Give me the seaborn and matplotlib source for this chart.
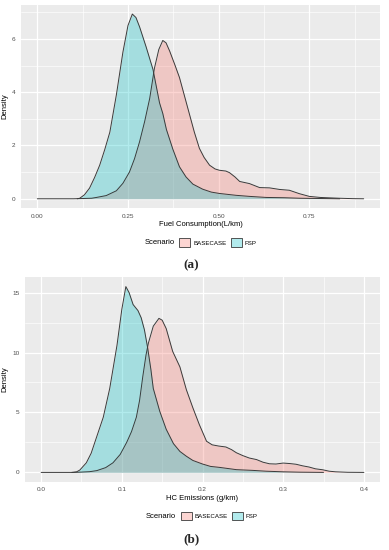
import numpy as np
import pandas as pd
import matplotlib
matplotlib.use("Agg")
import matplotlib.pyplot as plt
from matplotlib.patches import Patch
from matplotlib.ticker import MultipleLocator
import seaborn as sns

# ---------------- data ----------------
scenarios = ["BASECASE", "FSP"]

# Panel (a): Fuel consumption density
a_base_x = [0.0, 0.1, 0.15, 0.163, 0.19, 0.218, 0.236, 0.254, 0.268, 0.282, 0.296, 0.31,
            0.323, 0.335, 0.346, 0.355, 0.365, 0.38, 0.392, 0.405, 0.42, 0.433, 0.447,
            0.46, 0.475, 0.49, 0.502, 0.52, 0.53, 0.545, 0.558, 0.585, 0.613, 0.64,
            0.668, 0.695, 0.723, 0.75, 0.78, 0.806, 0.833, 0.87, 0.9]
a_base_y = [0.0, 0.0, 0.02, 0.05, 0.12, 0.3, 0.58, 1.0, 1.5, 2.14, 2.9, 3.77,
            4.9, 5.6, 5.94, 5.85, 5.54, 5.0, 4.55, 3.9, 3.15, 2.5, 1.89,
            1.55, 1.26, 1.12, 1.07, 1.04, 0.98, 0.82, 0.65, 0.57, 0.42, 0.41,
            0.35, 0.32, 0.19, 0.09, 0.05, 0.035, 0.02, 0.005, 0.0]
a_fsp_x = [0.11, 0.117, 0.13, 0.144, 0.158, 0.172, 0.186, 0.2, 0.218, 0.236, 0.25,
           0.262, 0.272, 0.282, 0.3, 0.319, 0.337, 0.346, 0.356, 0.374, 0.392, 0.41,
           0.429, 0.456, 0.48, 0.502, 0.548, 0.585, 0.631, 0.68, 0.723, 0.78, 0.834]
a_fsp_y = [0.0, 0.02, 0.15, 0.4, 0.8, 1.26, 1.85, 2.5, 3.9, 5.5, 6.5,
           6.93, 6.8, 6.45, 5.7, 4.85, 3.6, 3.2, 2.6, 1.85, 1.2, 0.82,
           0.55, 0.36, 0.25, 0.2, 0.13, 0.09, 0.05, 0.04, 0.02, 0.01, 0.0]

# Panel (b): HC emissions density
b_base_x = [0.0, 0.04, 0.048, 0.06, 0.069, 0.08, 0.089, 0.098, 0.106, 0.112, 0.118,
            0.122, 0.126, 0.13, 0.133, 0.139, 0.146, 0.15, 0.155, 0.163, 0.172, 0.18,
            0.188, 0.196, 0.205, 0.212, 0.22, 0.229, 0.236, 0.242, 0.25, 0.258, 0.267,
            0.275, 0.283, 0.291, 0.3, 0.308, 0.316, 0.324, 0.332, 0.34, 0.349, 0.357,
            0.365, 0.38, 0.4]
b_base_y = [0.0, 0.0, 0.02, 0.06, 0.15, 0.4, 0.8, 1.5, 2.5, 3.4, 4.6,
            6.0, 8.0, 9.8, 10.8, 12.2, 12.85, 12.7, 12.0, 10.1, 8.8, 6.9,
            5.4, 4.0, 2.6, 2.3, 2.2, 2.12, 1.9, 1.64, 1.4, 1.2, 1.07,
            0.85, 0.72, 0.7, 0.78, 0.74, 0.68, 0.55, 0.45, 0.3, 0.22, 0.1,
            0.05, 0.01, 0.0]
b_fsp_x = [0.038, 0.044, 0.048, 0.056, 0.062, 0.069, 0.077, 0.085, 0.094, 0.1, 0.105,
           0.109, 0.114, 0.12, 0.124, 0.128, 0.132, 0.136, 0.139, 0.147, 0.155, 0.164,
           0.172, 0.18, 0.188, 0.2, 0.21, 0.221, 0.242, 0.262, 0.279, 0.3, 0.32, 0.35]
b_fsp_y = [0.0, 0.05, 0.2, 0.8, 1.6, 3.0, 4.6, 7.0, 10.6, 13.6, 15.5,
           15.0, 14.0, 13.5, 12.9, 11.9, 10.4, 8.6, 7.0, 5.1, 3.6, 2.4,
           1.75, 1.35, 1.0, 0.7, 0.5, 0.42, 0.23, 0.17, 0.1, 0.05, 0.02, 0.0]

a_xticks = [0.0, 0.25, 0.5, 0.75]
a_xticklabels = ["0.00", "0.25", "0.50", "0.75"]
a_yticks = [0, 2, 4, 6]
b_xticks = [0.0, 0.1, 0.2, 0.3, 0.4]
b_xticklabels = ["0.0", "0.1", "0.2", "0.3", "0.4"]
b_yticks = [0, 5, 10, 15]

fill_colors = {"BASECASE": "#F8766D", "FSP": "#00BFC4"}
edge = "#3A3A3A"

sns.set_style("darkgrid", {"axes.facecolor": "#EBEBEB", "grid.color": "white"})
plt.rcParams["font.family"] = ["Liberation Sans", "DejaVu Sans"]

fig = plt.figure(figsize=(3.89, 5.5), dpi=100)
W, H = 389.0, 550.0


def px_axes(left, top, right, bottom):
    return fig.add_axes([left / W, 1 - bottom / H, (right - left) / W, (bottom - top) / H])


def panel(ax, base_x, base_y, fsp_x, fsp_y, xticks, xlabels, yticks, xlim, ylim,
          xminor, yminor, xlabel):
    df = pd.concat([
        pd.DataFrame({"x": base_x, "Density": base_y, "Scenario": "BASECASE"}),
        pd.DataFrame({"x": fsp_x, "Density": fsp_y, "Scenario": "FSP"}),
    ], ignore_index=True)
    for s in scenarios:
        d = df[df["Scenario"] == s]
        ax.fill_between(d["x"], 0, d["Density"], color=fill_colors[s], alpha=0.3,
                        linewidth=0, zorder=2)
    sns.lineplot(data=df, x="x", y="Density", hue="Scenario",
                 palette={"BASECASE": edge, "FSP": edge}, estimator=None, sort=False,
                 legend=False, linewidth=0.7, ax=ax, zorder=3)
    ax.set_xlim(*xlim)
    ax.set_ylim(*ylim)
    ax.set_xticks(xticks)
    ax.set_xticklabels(xlabels)
    ax.set_yticks(yticks)
    ax.set_yticklabels([str(t) for t in yticks])
    ax.xaxis.set_minor_locator(MultipleLocator(xminor))
    ax.yaxis.set_minor_locator(MultipleLocator(yminor))
    ax.grid(which="major", color="white", linewidth=0.9, zorder=0)
    ax.grid(which="minor", color="white", linewidth=0.45, zorder=0)
    ax.set_axisbelow(True)
    for sp in ax.spines.values():
        sp.set_visible(False)
    ax.tick_params(which="major", length=2.2, width=0.5, color=edge, direction="out",
                   labelsize=4.6, labelcolor="#4D4D4D", pad=1.8)
    ax.tick_params(which="minor", length=0)
    ax.set_xlabel(xlabel, fontsize=5.5, color="black", labelpad=2.0)
    ax.set_ylabel("Density", fontsize=5.5, color="black", labelpad=2.5)


def legend_row(y_px, scen_left_px, box_left_px):
    fig.text(scen_left_px / W, 1 - y_px / H, "Scenario", fontsize=5.5, color="black",
             ha="left", va="center")
    handles = [Patch(facecolor=(*matplotlib.colors.to_rgb(fill_colors[s]), 0.3),
                     edgecolor=edge, linewidth=0.6) for s in scenarios]
    fig.legend(handles, scenarios, loc="center left",
               bbox_to_anchor=(box_left_px / W, 1 - y_px / H), ncol=2, frameon=False,
               fontsize=4.4, handlelength=1.8, handleheight=1.8, handletextpad=0.45,
               columnspacing=0.7, borderpad=0, borderaxespad=0, labelcolor="black")


ax_a = px_axes(21, 5, 380, 208)
panel(ax_a, a_base_x, a_base_y, a_fsp_x, a_fsp_y, a_xticks, a_xticklabels, a_yticks,
      (-0.045, 0.945), (-0.346, 7.27), 0.125, 1, "Fuel Consumption(L/km)")
legend_row(242.7, 145, 179.3)
fig.text(191 / W, 1 - 265 / H, "(a)", fontsize=9.5, fontweight="bold",
         family=["Liberation Serif", "DejaVu Serif"], ha="center", va="center")

ax_b = px_axes(25, 277, 380, 481.7)
panel(ax_b, b_base_x, b_base_y, b_fsp_x, b_fsp_y, b_xticks, b_xticklabels, b_yticks,
      (-0.02, 0.42), (-0.775, 16.3), 0.05, 2.5, "HC Emissions (g/km)")
legend_row(516, 146, 180.7)
fig.text(191.5 / W, 1 - 539 / H, "(b)", fontsize=9.5, fontweight="bold",
         family=["Liberation Serif", "DejaVu Serif"], ha="center", va="center")

fig.savefig("out.png", dpi=100, facecolor="white")
